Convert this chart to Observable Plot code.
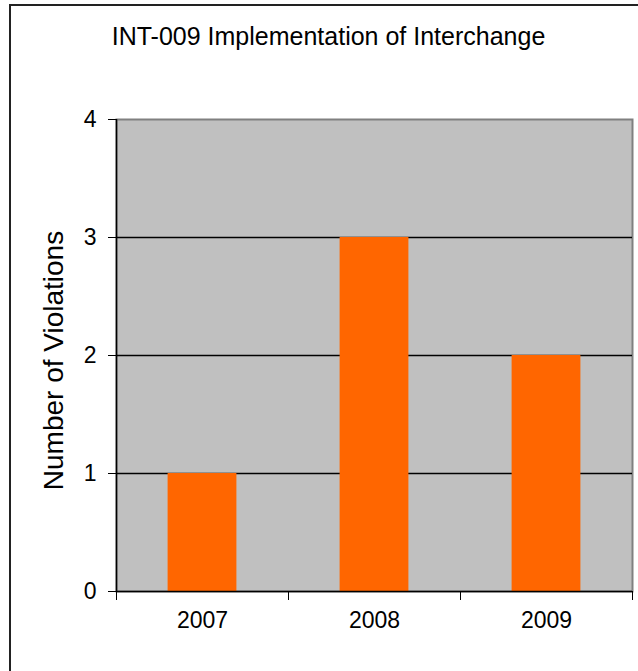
<!DOCTYPE html>
<html>
<head>
<meta charset="utf-8">
<script src="https://cdn.jsdelivr.net/npm/d3@7"></script>
<script src="https://cdn.jsdelivr.net/npm/@observablehq/plot@0.6"></script>
<style>
  html, body { margin: 0; padding: 0; background: #fff; }
  #wrap { position: relative; width: 638px; height: 671px; overflow: hidden; }
  #frame { position: absolute; left: 9px; top: 4px; width: 700px; height: 700px;
           border-left: 2px solid #222; border-top: 2px solid #222; pointer-events: none; }
</style>
</head>
<body>
<div id="wrap"><div id="frame"></div></div>
<script>
const title = "INT-009 Implementation of Interchange";
const yLabel = "Number of Violations";
const years = ["2007", "2008", "2009"];
const violations = [1, 3, 2];
const yTicks = [0, 1, 2, 3, 4];

const data = years.map((year, i) => ({year, i, value: violations[i]}));
const font = "'Liberation Sans', Arial, sans-serif";

const chart = Plot.plot({
  width: 638,
  height: 671,
  marginLeft: 116,
  marginRight: 6,
  marginTop: 119,
  marginBottom: 80,
  style: {fontFamily: font, background: "transparent", color: "#000", overflow: "visible"},
  x: {domain: [0, years.length], axis: null},
  y: {domain: [0, 4], axis: null},
  marks: [
    Plot.frame({fill: "#C0C0C0", stroke: "#808080", strokeWidth: 2}),
    Plot.gridY([1, 2, 3], {stroke: "#000", strokeOpacity: 1, strokeWidth: 1.5}),
    Plot.rectY(data, {x1: d => d.i + 0.3, x2: d => d.i + 0.7, y1: 0, y2: "value", fill: "#FF6600"}),
    Plot.ruleX([0], {stroke: "#000", strokeWidth: 1.5}),
    Plot.ruleY([0], {stroke: "#000", strokeWidth: 1.5}),
    Plot.axisY({ticks: yTicks, tickSize: 8, tickPadding: 12, fontSize: 23, tickFormat: d => String(d), label: null, stroke: "#000"}),
    Plot.axisX({ticks: d3.range(years.length + 1), tickSize: 9, tickFormat: () => "", label: null, stroke: "#000"}),
    Plot.axisX({ticks: years.map((_, i) => i + 0.5), tickSize: 0, tickPadding: 20, fontSize: 23, tickFormat: (d) => years[Math.floor(d)], label: null}),
    Plot.text([yLabel], {frameAnchor: "left", textAnchor: "middle", lineAnchor: "middle", dx: -62, dy: 5, rotate: -90, fontSize: 28, fill: "#000", text: d => d}),
    Plot.text([title], {frameAnchor: "top", dx: -46, dy: -92, fontSize: 25, fill: "#000", text: d => d})
  ]
});
document.getElementById("wrap").prepend(chart);
chart.style.position = "absolute";
chart.style.left = "0px";
chart.style.top = "0px";
</script>
</body>
</html>
